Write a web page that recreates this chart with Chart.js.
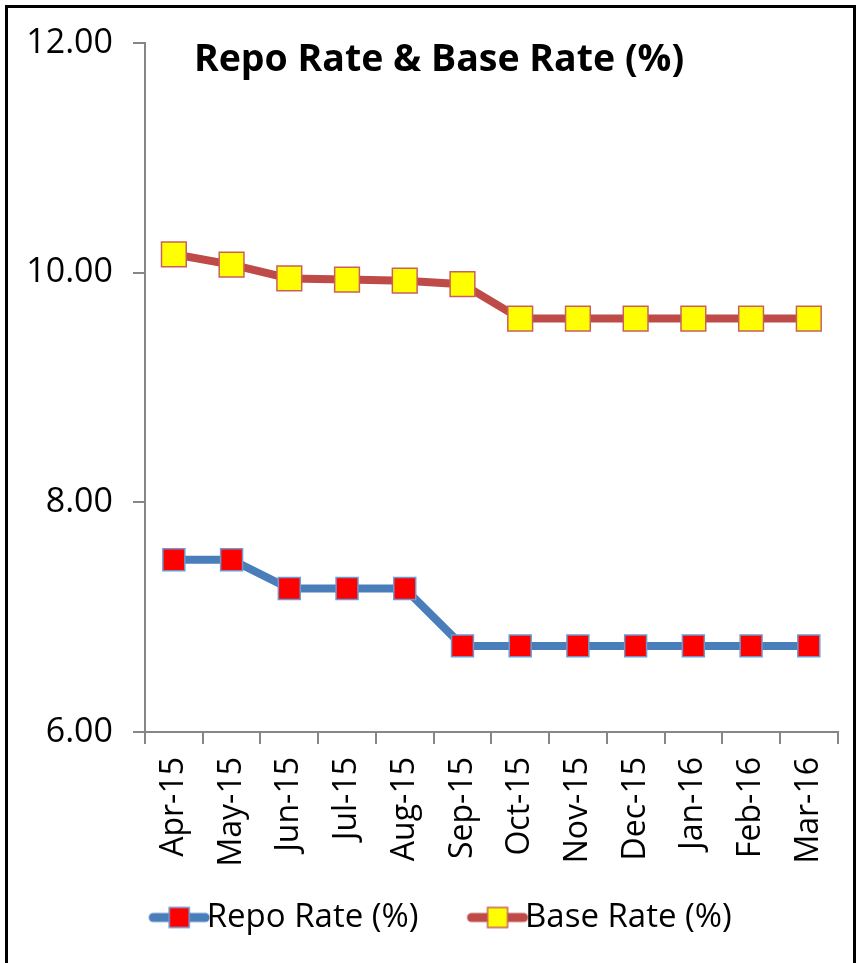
<!DOCTYPE html>
<html>
<head>
<meta charset="utf-8">
<script src="https://cdn.jsdelivr.net/npm/chart.js@4/dist/chart.umd.min.js"></script>
<style>
  html, body { margin: 0; padding: 0; background: #fff; }
  #wrap { position: relative; width: 861px; height: 963px; overflow: hidden; }
  #frame { position: absolute; left: 5px; top: 5px; width: 851px; height: 970px; border: 3px solid #000; box-sizing: border-box; pointer-events: none; }
  canvas { position: absolute; left: 0; top: 0; }
</style>
</head>
<body>
<div id="wrap">
  <canvas id="c" width="861" height="963"></canvas>
  <div id="frame"></div>
</div>
<script>
const categories = ['Apr-15','May-15','Jun-15','Jul-15','Aug-15','Sep-15','Oct-15','Nov-15','Dec-15','Jan-16','Feb-16','Mar-16'];
const repoRate = [7.50, 7.50, 7.25, 7.25, 7.25, 6.75, 6.75, 6.75, 6.75, 6.75, 6.75, 6.75];
const baseRate = [10.16, 10.07, 9.95, 9.94, 9.93, 9.90, 9.60, 9.60, 9.60, 9.60, 9.60, 9.60];
const yTicks = [6, 8, 10, 12];
const titleText = 'Repo Rate & Base Rate (%)';
const seriesNames = ['Repo Rate (%)', 'Base Rate (%)'];

const FONT = "'Open Sans', 'DejaVu Sans', sans-serif";

function legendIcon(lineColor, fill, stroke, B) {
  const W = B + 40, H = 26;
  const cv = document.createElement('canvas');
  cv.width = W; cv.height = H;
  const g = cv.getContext('2d');
  const lineEnd = W;
  const lineStart = W - 62;
  g.strokeStyle = lineColor; g.lineWidth = 9; g.lineCap = 'round';
  g.beginPath(); g.moveTo(lineStart + 5, H / 2); g.lineTo(lineEnd - 5, H / 2); g.stroke();
  const cx = (lineStart + lineEnd) / 2;
  g.fillStyle = fill; g.strokeStyle = stroke; g.lineWidth = 1.5;
  g.fillRect(cx - 10, H / 2 - 10, 20, 20);
  g.strokeRect(cx - 10, H / 2 - 10, 20, 20);
  return cv;
}
const BOXW = 80;
const iconRepo = legendIcon('#4A7EBB', '#FF0000', '#6F98CF', BOXW);
const iconBase = legendIcon('#BE4B48', '#FFFF00', '#C9605C', BOXW);

const titlePlugin = {
  id: 'innerTitle',
  afterDraw(chart) {
    const ctx = chart.ctx;
    ctx.save();
    ctx.font = "bold 37.5px " + FONT;
    ctx.fillStyle = '#000';
    ctx.textAlign = 'center';
    ctx.textBaseline = 'alphabetic';
    ctx.fillText(titleText, 439, 71);
    ctx.restore();
  }
};

new Chart(document.getElementById('c'), {
  type: 'line',
  data: {
    labels: categories,
    datasets: [
      {
        label: seriesNames[0],
        data: repoRate,
        borderColor: '#4A7EBB',
        borderWidth: 8,
        backgroundColor: '#FF0000',
        pointStyle: 'rect',
        pointRadius: 15.5,
        pointHoverRadius: 15.5,
        pointBackgroundColor: '#FF0000',
        pointBorderColor: '#6F98CF',
        pointBorderWidth: 1.5,
        tension: 0,
        fill: false
      },
      {
        label: seriesNames[1],
        data: baseRate,
        borderColor: '#BE4B48',
        borderWidth: 8,
        backgroundColor: '#FFFF00',
        pointStyle: 'rect',
        pointRadius: 17.5,
        pointHoverRadius: 17.5,
        pointBackgroundColor: '#FFFF00',
        pointBorderColor: '#C9605C',
        pointBorderWidth: 1.5,
        tension: 0,
        fill: false
      }
    ]
  },
  options: {
    responsive: false,
    animation: false,
    events: [],
    layout: { padding: { left: 0, right: 19, top: 43, bottom: 19 } },
    plugins: {
      title: { display: false },
      tooltip: { enabled: false },
      legend: {
        display: true,
        position: 'bottom',
        labels: {
          usePointStyle: true,
          pointStyleWidth: BOXW,
          padding: 10,
          color: '#000',
          font: { family: FONT, size: 33 },
          generateLabels(chart) {
            return chart.data.datasets.map((ds, i) => ({
              text: ds.label,
              pointStyle: i === 0 ? iconRepo : iconBase,
              fillStyle: ds.backgroundColor,
              strokeStyle: ds.borderColor,
              lineWidth: 0,
              hidden: false,
              datasetIndex: i,
              fontColor: '#000'
            }));
          }
        }
      }
    },
    scales: {
      x: {
        type: 'category',
        offset: true,
        afterFit(s) { s.height = 159; },
        grid: { display: true, offset: true, drawOnChartArea: false, drawTicks: true, tickLength: 12, color: '#868686', lineWidth: 2 },
        border: { display: true, color: '#868686', width: 2 },
        ticks: { color: '#000', font: { family: FONT, size: 32 }, minRotation: 90, maxRotation: 90, padding: 13, autoSkip: false }
      },
      y: {
        min: 6,
        max: 12,
        afterFit(s) { s.width = 145; },
        afterBuildTicks(s) { s.ticks = yTicks.map(v => ({ value: v })); },
        grid: { display: true, drawOnChartArea: false, drawTicks: true, tickLength: 12, color: '#868686', lineWidth: 2 },
        border: { display: true, color: '#868686', width: 2 },
        ticks: { color: '#000', font: { family: FONT, size: 34 }, padding: 20, callback: v => Number(v).toFixed(2) }
      }
    }
  },
  plugins: [titlePlugin]
});
</script>
</body>
</html>
